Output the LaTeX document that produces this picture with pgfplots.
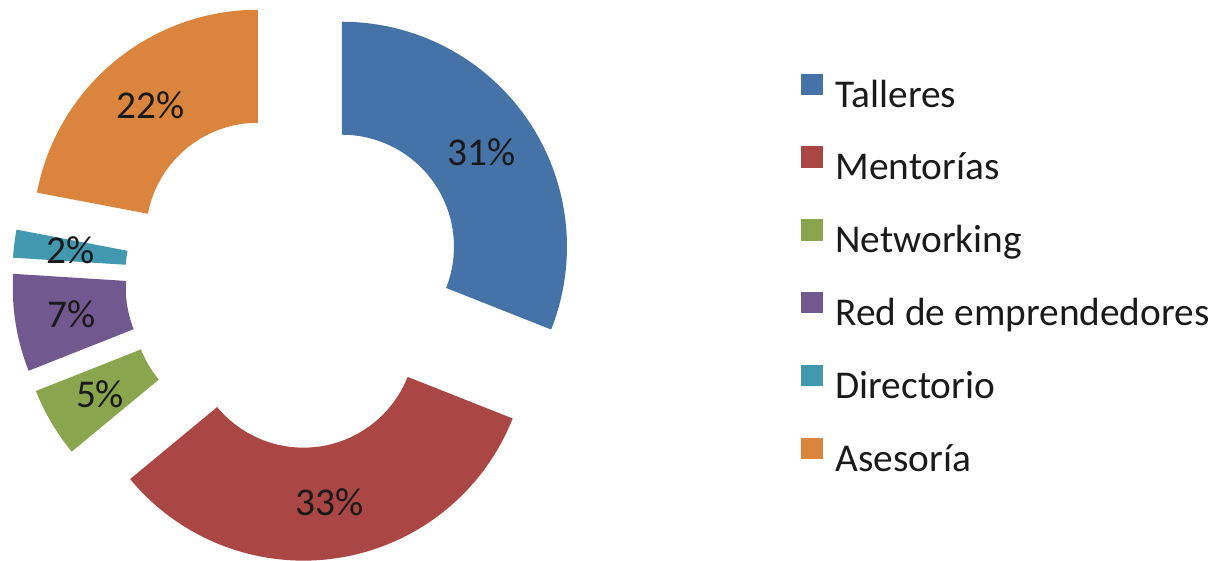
\documentclass[border=0pt]{standalone}
\usepackage{pgfplots}
\pgfplotsset{compat=1.18}
\usepackage{fontspec}
\setmainfont{Carlito}
\definecolor{cTal}{RGB}{69,114,167}
\definecolor{cMen}{RGB}{170,70,67}
\definecolor{cNet}{RGB}{137,165,78}
\definecolor{cRed}{RGB}{113,88,143}
\definecolor{cDir}{RGB}{65,152,175}
\definecolor{cAse}{RGB}{219,132,61}
\definecolor{txt}{RGB}{26,26,26}
\pgfplotsset{sqleg/.style={legend image code/.code={\fill[##1] (0pt,-0.2pt) rectangle (6.2pt,5.9pt);}}}
% centre of the donut (px), outer radius, inner radius, explosion offset
\def\cx{294.5}\def\cy{281}\def\Ro{225}\def\Ri{112}\def\dd{57.4}
\begin{document}
\begin{tikzpicture}
\begin{axis}[width=12.2cm,height=5.6cm,scale only axis,hide axis,
  xmin=0,xmax=1220,ymin=0,ymax=560,clip=false,
  legend cell align=left,
  legend style={draw=none,fill=none,inner sep=0pt,outer sep=0pt,
    at={(axis cs:801,502)},anchor=north west,
    font=\fontsize{11.2}{13}\selectfont\color{txt},
    column sep=3.6pt,row sep=0pt,
    nodes={inner sep=0pt,text height=14pt,text depth=6.71pt}},
  sqleg]
\addlegendimage{fill=cTal,draw=none,sqleg}\addlegendentry{Talleres}
\addlegendimage{fill=cMen,draw=none,sqleg}\addlegendentry{Mentorías}
\addlegendimage{fill=cNet,draw=none,sqleg}\addlegendentry{Networking}
\addlegendimage{fill=cRed,draw=none,sqleg}\addlegendentry{Red de emprendedores}
\addlegendimage{fill=cDir,draw=none,sqleg}\addlegendentry{Directorio}
\addlegendimage{fill=cAse,draw=none,sqleg}\addlegendentry{Asesoría}
\pgfplotsextra{
  \path (axis cs:0,0) (axis cs:1220,560);
  \gdef\ang{90}
  \foreach \v/\c in {31/cTal,33/cMen,5/cNet,7/cRed,2/cDir,22/cAse}{
    \pgfmathsetmacro\a{\ang}
    \pgfmathsetmacro\b{\ang-3.6*\v}
    \pgfmathsetmacro\m{(\a+\b)/2}
    \pgfmathsetmacro\ox{\cx+\dd*cos(\m)}
    \pgfmathsetmacro\oy{\cy+\dd*sin(\m)}
    \fill[\c] plot[domain=\a:\b,samples=80] (axis cs:{\ox+\Ro*cos(\x)},{\oy+\Ro*sin(\x)})
      -- plot[domain=\b:\a,samples=80] (axis cs:{\ox+\Ri*cos(\x)},{\oy+\Ri*sin(\x)}) -- cycle;
    \pgfmathsetmacro\lx{\ox+0.5*(\Ro+\Ri)*cos(\m)}
    \pgfmathsetmacro\ly{\oy+0.5*(\Ro+\Ri)*sin(\m)}
    \node[font=\fontsize{11.2}{13}\selectfont,text=txt,inner sep=0pt] at (axis cs:\lx,\ly) {\v\%};
    \xdef\ang{\b}
  }
}
\end{axis}
\end{tikzpicture}
\end{document}
